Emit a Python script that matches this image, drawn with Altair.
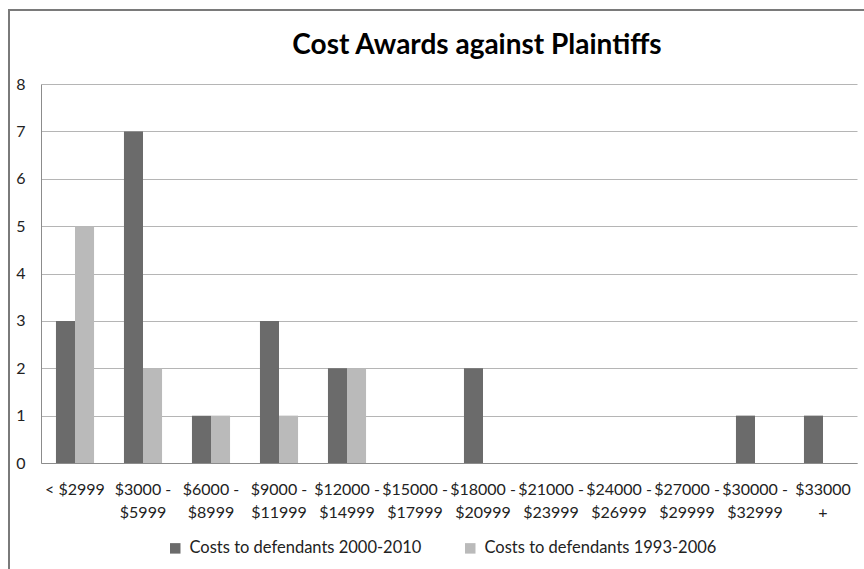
import altair as alt
import pandas as pd

categories = ["< $2999", "$3000 -\n$5999", "$6000 -\n$8999", "$9000 -\n$11999",
              "$12000 -\n$14999", "$15000 -\n$17999", "$18000 -\n$20999",
              "$21000 -\n$23999", "$24000 -\n$26999", "$27000 -\n$29999",
              "$30000 -\n$32999", "$33000\n+"]
series_names = ["Costs to defendants 2000-2010", "Costs to defendants 1993-2006"]
values_2000_2010 = [3, 7, 1, 3, 2, 0, 2, 0, 0, 0, 1, 1]
values_1993_2006 = [5, 2, 1, 1, 2, 0, 0, 0, 0, 0, 0, 0]
colors = ["#6b6b6b", "#bababa"]

rows = []
for c, v in zip(categories, values_2000_2010):
    rows.append({"cat": c, "series": series_names[0], "value": v})
for c, v in zip(categories, values_1993_2006):
    rows.append({"cat": c, "series": series_names[1], "value": v})
df = pd.DataFrame(rows)

FONT = "Lato"
W, H = 816, 379

bars = alt.Chart(df).mark_bar().encode(
    x=alt.X("cat:N", sort=categories,
            scale=alt.Scale(paddingInner=0.44, paddingOuter=0.22),
            axis=alt.Axis(title=None, labelAngle=0, labelExpr="split(datum.value, '\\n')",
                          labelFontSize=16, labelColor="#222222", labelPadding=18,
                          labelLineHeight=23, ticks=False, domainColor="#8c8c8c",
                          labelFont=FONT, grid=False)),
    xOffset=alt.XOffset("series:N", sort=series_names, scale=alt.Scale(paddingInner=0, paddingOuter=0)),
    y=alt.Y("value:Q", scale=alt.Scale(domain=[0, 8], nice=False),
            axis=alt.Axis(title=None, values=list(range(0, 9)), labelFontSize=16,
                          labelColor="#222222", labelPadding=16, ticks=False,
                          domainColor="#8c8c8c", gridColor="#b5b5b5", labelFont=FONT)),
    color=alt.Color("series:N", sort=series_names,
                    scale=alt.Scale(domain=series_names, range=colors),
                    legend=alt.Legend(title=None, orient="none", direction="horizontal",
                                      legendX=126, legendY=456, symbolType="square",
                                      symbolSize=110, labelFontSize=16.5, labelFont=FONT,
                                      labelColor="#222222", columnPadding=40, labelLimit=400,
                                      symbolStrokeWidth=0, labelOffset=6)),
)

frame_df = pd.DataFrame({"a": [0]})
left_line = alt.Chart(frame_df).mark_rule(color="#7a7a7a", strokeWidth=2).encode(
    x=alt.value(-32), y=alt.value(-74), y2=alt.value(H + 106))
top_line = alt.Chart(frame_df).mark_rule(color="#7a7a7a", strokeWidth=2).encode(
    x=alt.value(-33), x2=alt.value(W + 10), y=alt.value(-74))

chart = alt.layer(bars, left_line, top_line).properties(
    width=W, height=H,
    title=alt.TitleParams("Cost Awards against Plaintiffs", font=FONT, fontSize=28,
                          fontWeight="bold", color="#000000", anchor="middle", dx=28, offset=-51),
    autosize=alt.AutoSizeParams(type="none"),
    padding={"left": 41, "top": 84, "right": 7, "bottom": 106},
).configure_view(strokeWidth=0)

chart.save("out.html", embed_options={"renderer": "svg", "actions": False})
